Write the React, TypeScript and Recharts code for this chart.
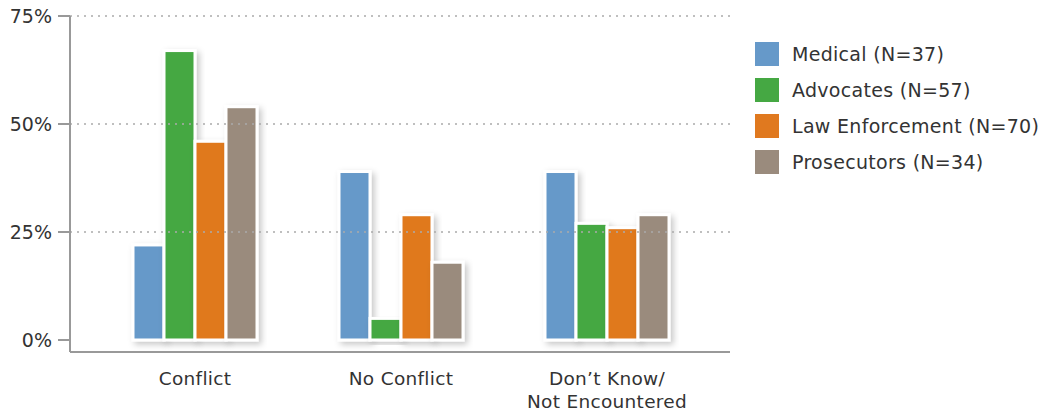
import { BarChart, Bar, XAxis, YAxis, ReferenceLine } from "recharts";

const categories = ["Conflict", "No Conflict", "Don\u2019t Know/\nNot Encountered"];
const medical = [22, 39, 39];
const advocates = [67, 5, 27];
const lawEnforcement = [46, 29, 26];
const prosecutors = [54, 18, 29];
const yTicks = [0, 25, 50, 75];

const series = [
  { key: "medical", name: "Medical (N=37)", color: "#6699C9", values: medical },
  { key: "advocates", name: "Advocates (N=57)", color: "#45A843", values: advocates },
  { key: "law", name: "Law Enforcement (N=70)", color: "#E0791F", values: lawEnforcement },
  { key: "prosecutors", name: "Prosecutors (N=34)", color: "#9A8B7D", values: prosecutors },
];

const data = categories.map((c, i) => {
  const row: Record<string, string | number> = { category: c };
  series.forEach((s) => (row[s.key] = s.values[i]));
  return row;
});

const FONT = "'DejaVu Sans', sans-serif";

const BarShape = (props: any) => {
  const { x, y, width, height, fill } = props;
  if (!height || height <= 0) return null;
  return (
    <rect
      x={x}
      y={y}
      width={width}
      height={height}
      fill={fill}
      stroke="#fff"
      strokeWidth={3}
      filter="url(#barShadow)"
    />
  );
};

const XTick = (props: any) => {
  const { x, y, payload } = props;
  const lines = String(payload.value).split("\n");
  return (
    <text x={x} y={y} textAnchor="middle" fill="#333" fontSize={18.5} letterSpacing={0.3} fontFamily={FONT}>
      {lines.map((l, i) => (
        <tspan key={i} x={x} dy={i === 0 ? 25 : 23}>
          {l}
        </tspan>
      ))}
    </text>
  );
};

export default function App() {
  return (
    <div style={{ position: "absolute", left: 0, top: 0, width: 1042, height: 413, background: "#fff" }}>
      <BarChart
        width={1042}
        height={413}
        data={data}
        margin={{ top: 16, right: 312, bottom: 0, left: 0 }}
        barSize={31}
        barGap={0}
      >
        <defs>
          <filter id="barShadow" x="-30%" y="-10%" width="160%" height="130%">
            <feDropShadow dx="3" dy="3" stdDeviation="3" floodColor="#000" floodOpacity="0.22" />
          </filter>
        </defs>
        {[25, 50, 75].map((v) => (
          <ReferenceLine key={v} y={v} stroke="#aaa" strokeWidth={1.5} strokeDasharray="2 5" />
        ))}
        <XAxis
          dataKey="category"
          height={61}
          padding={{ left: 22, right: 20 }}
          axisLine={{ stroke: "#999", strokeWidth: 2 }}
          tickLine={false}
          tick={<XTick />}
          interval={0}
        />
        <YAxis
          width={70}
          domain={[-2.78, 75]}
          ticks={yTicks}
          allowDataOverflow
          tickFormatter={(v) => `${v}%`}
          tickSize={12}
          tickMargin={6}
          axisLine={{ stroke: "#999", strokeWidth: 2 }}
          tickLine={{ stroke: "#999", strokeWidth: 2 }}
          tick={{ fill: "#333", fontSize: 19, fontFamily: FONT }}
        />
        {series.map((s) => (
          <Bar
            key={s.key}
            dataKey={s.key}
            name={s.name}
            fill={s.color}
            shape={<BarShape />}
            isAnimationActive={false}
          />
        ))}
      </BarChart>
      <div
        style={{
          position: "absolute",
          left: 755,
          top: 36,
          fontFamily: FONT,
          fontSize: 19,
          letterSpacing: 0.3,
          color: "#333",
        }}
      >
        {series.map((s) => (
          <div key={s.key} style={{ display: "flex", alignItems: "center", height: 36 }}>
            <div style={{ width: 24, height: 24, background: s.color, marginRight: 13 }} />
            <span style={{ whiteSpace: "nowrap" }}>{s.name}</span>
          </div>
        ))}
      </div>
    </div>
  );
}
